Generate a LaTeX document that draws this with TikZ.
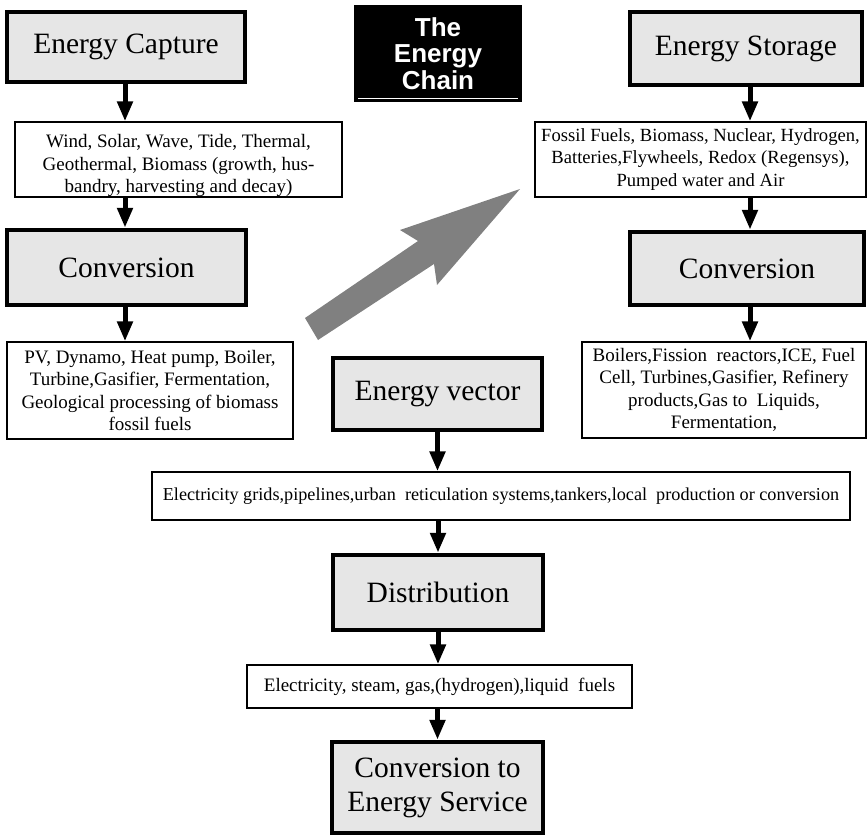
\documentclass[tikz,border=0pt]{standalone}
\usepackage{fontspec}
\setmainfont{Liberation Serif}
\newfontfamily\titlefont{Liberation Sans}
\usetikzlibrary{arrows.meta}
\definecolor{boxgray}{HTML}{E6E6E6}
\definecolor{arrowgray}{HTML}{808080}
\begin{document}
\begin{tikzpicture}[x=1pt,y=-1pt,
  bigbox/.style={draw, line width=4.5pt, fill=boxgray, inner sep=0pt, font=\fontsize{29.5}{34}\selectfont, align=center},
  txtbox/.style={draw, line width=1.3pt, fill=white, inner sep=0pt, font=\fontsize{19}{22.5}\selectfont, align=center},
  plaintxt/.style={inner sep=0pt, font=\fontsize{19}{22.5}\selectfont, align=center},
  smalltxt/.style={txtbox, font=\fontsize{18.2}{21}\selectfont},
  titlebox/.style={fill=black, text=white, inner sep=0pt, font=\titlefont\bfseries\fontsize{26}{26.5}\selectfont, align=center},
  arr/.style={line width=5pt, -{Triangle[width=15pt,length=20pt]}},
]
\useasboundingbox (0,0) rectangle (867,835);

% title
\node[titlebox, minimum width=168pt, minimum height=97pt] (title) at (438,53.5) {The\\Energy\\Chain};
\draw[white, line width=1pt] (358,98.3) -- (518,98.3);

% left column
\node[bigbox, minimum width=238pt, minimum height=70pt] (cap) at (126,47) {Energy Capture};
\node[txtbox, minimum width=327pt, minimum height=75pt] (t1) at (178.5,159.5) {};
\node[plaintxt] (t1text) at ([yshift=-6pt]t1.center)
  {Wind, Solar, Wave, Tide, Thermal,\\Geothermal, Biomass (growth, hus-\\bandry, harvesting and decay)};
\node[bigbox, minimum width=239pt, minimum height=75pt] (convL) at (126.5,267.5) {Conversion};
\node[txtbox, minimum width=286pt, minimum height=97pt] (t3) at (150,390.5)
  {PV, Dynamo, Heat pump, Boiler,\\Turbine,Gasifier, Fermentation,\\Geological processing of biomass\\fossil fuels};

% right column
\node[bigbox, minimum width=232pt, minimum height=73pt] (stor) at (746,48.5) {Energy Storage};
\node[txtbox, font=\fontsize{18.6}{22.5}\selectfont, minimum width=331pt, minimum height=75pt] (t2) at (700.5,159.5)
  {Fossil Fuels, Biomass, Nuclear, Hydrogen,\\Batteries,Flywheels, Redox (Regensys),\\Pumped water and Air};
\node[bigbox, minimum width=234pt, minimum height=73pt] (convR) at (747,268.5) {Conversion};
\node[txtbox, minimum width=284pt, minimum height=96pt] (t4) at (724,390)
  {Boilers,Fission\ \ reactors,ICE, Fuel\\Cell, Turbines,Gasifier, Refinery\\products,Gas to\ \ Liquids,\\Fermentation,};

% centre column
\node[bigbox, minimum width=209pt, minimum height=72pt] (vec) at (437.5,394) {Energy vector};
\node[smalltxt, minimum width=698pt, minimum height=48pt] (wide) at (501,496)
  {Electricity grids,pipelines,urban\ \ reticulation systems,tankers,local\ \ production or conversion};
\node[bigbox, minimum width=210pt, minimum height=75pt] (dist) at (438,592.5) {Distribution};
\node[txtbox, minimum width=385pt, minimum height=43pt] (elec) at (439.5,686.5)
  {Electricity, steam, gas,(hydrogen),liquid\ \ fuels};
\node[bigbox, minimum width=211pt, minimum height=91pt] (final) at (437.5,787.5) {Conversion to\\Energy Service};

% big grey arrow
\fill[arrowgray] (305,318) -- (418,241) -- (400,230) -- (520,189) -- (437,285) -- (434,264) -- (318,340) -- cycle;

% connectors
\draw[arr] ([xshift=-1pt]cap.south) -- ([xshift=-1pt]cap.south |- t1.north);
\draw[arr] ([xshift=-1pt]cap.south |- t1.south) -- ([xshift=-1pt]cap.south |- convL.north);
\draw[arr] ([xshift=-1.5pt]convL.south) -- ([xshift=-1.5pt]convL.south |- t3.north);
\draw[arr] ([xshift=4pt]stor.south) -- ([xshift=4pt]stor.south |- t2.north);
\draw[arr] ([xshift=4pt]stor.south |- t2.south) -- ([xshift=4pt]stor.south |- convR.north);
\draw[arr] ([xshift=3pt]convR.south) -- ([xshift=3pt]convR.south |- t4.north);
\draw[arr] (vec.south) -- (vec.south |- wide.north);
\draw[arr] (dist.north |- wide.south) -- (dist.north);
\draw[arr] (dist.south) -- (dist.south |- elec.north);
\draw[arr] (final.north |- elec.south) -- (final.north);
\end{tikzpicture}
\end{document}
